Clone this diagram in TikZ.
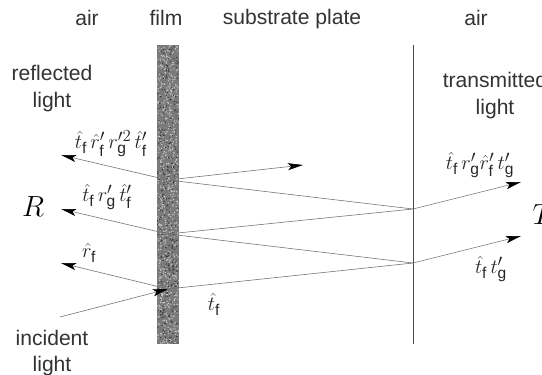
\documentclass[tikz,border=0pt]{standalone}
\usepackage{amsmath}
\usepackage{fontspec}
\setmainfont{Liberation Sans}
\usetikzlibrary{arrows.meta}

\tikzset{
  txt/.style={font=\fontsize{18}{20}\selectfont, text=black!80, inner sep=0pt},
  coef/.style={font=\fontsize{19}{20}\selectfont, text=black!85, inner sep=0pt},
  big/.style={font=\fontsize{24}{26}\selectfont, inner sep=0pt},
  ray/.style={draw=black!55, line width=0.5pt},
  rayend/.style={ray, -{Stealth[length=13pt,width=6pt,inset=3pt,black]}}
}
\newcommand{\tf}{\hat{t}_{\mathrm{f}}}
\newcommand{\rf}{\hat{r}_{\mathrm{f}}}

\begin{document}
\begin{tikzpicture}[x=0.03cm, y=-0.03cm]

\path[use as bounding box] (0,0) rectangle (542,375);
\clip (0,0) rectangle (542,375);

% layers
\fill[black!52] (157,45) rectangle (179,344);
\pgfmathsetseed{7}
\foreach \i in {1,...,700} {
  \pgfmathsetmacro{\dx}{157.5+21*rnd}
  \pgfmathsetmacro{\dy}{45.5+298*rnd}
  \fill[white!80!black] (\dx,\dy) circle (0.7);
}
\foreach \i in {1,...,350} {
  \pgfmathsetmacro{\dx}{157.5+21*rnd}
  \pgfmathsetmacro{\dy}{45.5+298*rnd}
  \fill[black!80] (\dx,\dy) circle (0.7);
}
\draw[black!70, line width=0.6pt] (413,45) -- (413,344);

% headings
\node[txt] (air1) at (87,18) {air};
\node[txt] (film) at (166,18) {film};
\node[txt] (plate) at (292,19) {substrate plate};
\node[txt] (air2) at (476,18) {air};
\node[txt, align=center] (refl) at (52,89) {reflected\\[3pt]light};
\node[txt, align=center] (trans) at (495,96) {transmitted\\[3pt]light};
\node[txt, align=center] (inc) at (52,353) {incident\\[2pt]light};
\node[big] (R) at (33,207) {$R$};
\node[big] (T) at (543,215) {$T$};

% points on the film and on the back face
\coordinate (in) at (60,317);
\coordinate (f1) at (168,289);
\coordinate (f2) at (168,234);
\coordinate (f3) at (168,180);
\coordinate (b1) at (413,263);
\coordinate (b2) at (413,209);
\coordinate (r1) at (61,263);
\coordinate (r2) at (61,209);
\coordinate (r3) at (61,155);
\coordinate (s1) at (303,165);
\coordinate (t1) at (521,236);
\coordinate (t2) at (521,182);

% rays
\draw[rayend] (in) -- (f1);
\draw[ray] (f1) -- (b1);
\draw[ray] (b1) -- (f2);
\draw[ray] (f2) -- (b2);
\draw[ray] (b2) -- (f3);
\draw[rayend] (f1) -- (r1);
\draw[rayend] (f2) -- (r2);
\draw[rayend] (f3) -- (r3);
\draw[rayend] (f3) -- (s1);
\draw[rayend] (b1) -- (t1);
\draw[rayend] (b2) -- (t2);

% coefficients
\node[coef] (c1) at (111,144) {$\tf\,\rf'\,r_{\mathrm{g}}'^{2}\,\tf'$};
\node[coef] (c2) at (107,197) {$\tf\,r_{\mathrm{g}}'\,\tf'$};
\node[coef] (c3) at (89,253) {$\rf$};
\node[coef] (c4) at (214,304) {$\tf$};
\node[coef] (c5) at (480,165) {$\tf\,r_{\mathrm{g}}'\rf'\,t_{\mathrm{g}}'$};
\node[coef] (c6) at (491,269) {$\tf\,t_{\mathrm{g}}'$};

\end{tikzpicture}
\end{document}
